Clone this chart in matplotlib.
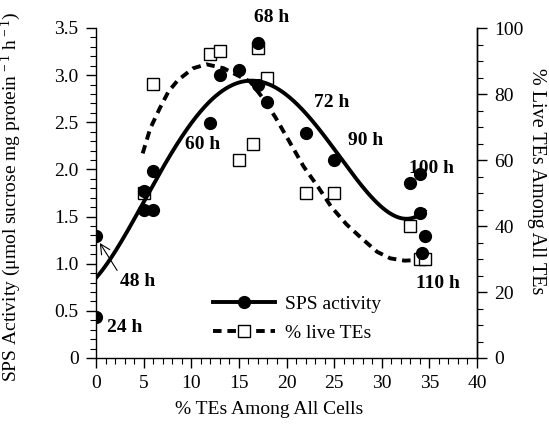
import numpy as np
import matplotlib.pyplot as plt
from matplotlib.ticker import MultipleLocator, FuncFormatter

plt.rcParams['font.family'] = ['Liberation Serif', 'DejaVu Serif']
plt.rcParams['mathtext.fontset'] = 'custom'
plt.rcParams['mathtext.rm'] = 'Liberation Serif'
plt.rcParams['mathtext.it'] = 'Liberation Serif:italic'

# SPS activity vs % TEs among all cells (left axis)
sps_x = [0, 0, 5, 5, 6, 6, 12, 13, 15, 17, 17, 18, 22, 25, 33, 34, 34, 34.5, 34.2]
sps_y = [0.44, 1.29, 1.77, 1.57, 1.57, 1.98, 2.49, 3.00, 3.05, 3.34, 2.90, 2.72,
         2.39, 2.10, 1.86, 1.95, 1.54, 1.29, 1.11]

# % live TEs among all TEs (right axis)
live_x = [5, 6, 12, 13, 15, 16.5, 17, 18, 22, 25, 33, 34, 34.5]
live_y = [50, 83, 92, 93, 60, 65, 94, 85, 50, 50, 40, 30, 30]

# trend of % live TEs
live_trend_x = [4.9, 5.7, 6.7, 7.6, 8.6, 10.2, 11.6, 13.4, 16.2, 17.4, 18.8, 20.2,
                21.8, 23.3, 24.7, 26.3, 27.8, 29.5, 30.9, 32.4, 34.0]
live_trend_y = [62.0, 69.6, 75.7, 80.7, 84.2, 87.8, 89.0, 87.8, 83.7, 79.2, 73.1, 66.1,
                58.0, 51.9, 45.8, 40.5, 36.5, 32.2, 30.2, 29.5, 29.7]

# harvest time labels: text, x, y (left-axis units)
time_labels = [('68 h', 18.4, 3.61), ('60 h', 11.2, 2.26), ('72 h', 24.7, 2.71),
               ('90 h', 28.3, 2.31), ('100 h', 35.2, 2.01), ('110 h', 35.9, 0.79),
               ('24 h', 3.04, 0.32)]

fig = plt.figure(figsize=(5.49, 4.25), dpi=100)
ax = fig.add_axes([96 / 549, 1 - 358 / 425, 381 / 549, 330 / 425])
ax2 = ax.twinx()
ax.set_zorder(ax2.get_zorder() + 1)
ax.patch.set_visible(False)

# quartic trend of SPS activity
coef = np.polyfit(sps_x, sps_y, 4)
xs = np.linspace(0, 34.5, 300)
ax.plot(xs, np.polyval(coef, xs), color='k', lw=2.8, zorder=2)
ax.plot(sps_x, sps_y, 'o', color='k', ms=8.5, zorder=3)

ax2.plot(live_trend_x, live_trend_y, color='k', lw=2.8, dashes=(2.2, 1.5), zorder=2)
ax2.plot(live_x, live_y, 's', mfc='white', mec='k', mew=1.0, ms=8, zorder=3)

ax.set_xlim(0, 40)
ax.set_ylim(0, 3.5)
ax2.set_ylim(0, 100)

ax.xaxis.set_major_locator(MultipleLocator(5))
ax.xaxis.set_minor_locator(MultipleLocator(1))
ax.yaxis.set_major_locator(MultipleLocator(0.5))
ax.yaxis.set_minor_locator(MultipleLocator(0.1))
ax.yaxis.set_major_formatter(FuncFormatter(lambda v, p: '0' if v == 0 else f'{v:.1f}'))
ax2.yaxis.set_major_locator(MultipleLocator(20))
ax2.yaxis.set_minor_locator(MultipleLocator(5))

for a in (ax, ax2):
    a.spines['top'].set_visible(False)
    for s in a.spines.values():
        s.set_linewidth(1.0)
    a.tick_params(which='major', direction='out', length=7.5, width=1.0, labelsize=14, pad=5)
    a.tick_params(which='minor', direction='out', length=4, width=0.8)
ax2.spines['left'].set_visible(False)
ax2.spines['bottom'].set_visible(False)

ax.set_xlabel('% TEs Among All Cells', fontsize=14)
ax.xaxis.set_label_coords((269 - 96) / 381, -0.13)
ax.set_ylabel('SPS Activity (μmol sucrose mg protein$^{\\,-1}$ h$^{\\,-1}$)', fontsize=14)
ax.yaxis.set_label_coords((23 - 96) / 381, 0.488)
ax2.set_ylabel('% Live TEs Among All TEs', fontsize=14.5, rotation=270, va='bottom')
ax2.yaxis.set_label_coords((527 - 96) / 381, 0.536)

for txt, tx, ty in time_labels:
    ax.text(tx, ty, txt, fontsize=14, fontweight='bold', ha='center', va='center', zorder=4)
ax.annotate('48 h', xy=(0.4, 1.22), xytext=(4.36, 0.81), fontsize=14, fontweight='bold',
            ha='center', va='center',
            arrowprops=dict(arrowstyle='->, head_length=0.5, head_width=0.25', lw=0.8,
                            color='k', shrinkA=0, shrinkB=0, relpos=(0.0, 0.9)))

h1, = ax.plot([], [], 'o-', color='k', lw=2.8, ms=8.5)
h2, = ax.plot([], [], 's', ls='--', color='k', lw=2.8, dashes=(2.2, 1.5),
              mfc='white', mec='k', mew=1.0, ms=8)
ax.legend([h1, h2], ['SPS activity', '% live TEs'], loc='upper left',
          bbox_to_anchor=(213 / 549, 1 - 295 / 425), bbox_transform=fig.transFigure,
          frameon=False, fontsize=14, handlelength=3.2, handletextpad=0.5,
          labelspacing=0.6, borderpad=0, borderaxespad=0)

fig.savefig('out.png', dpi=100)
